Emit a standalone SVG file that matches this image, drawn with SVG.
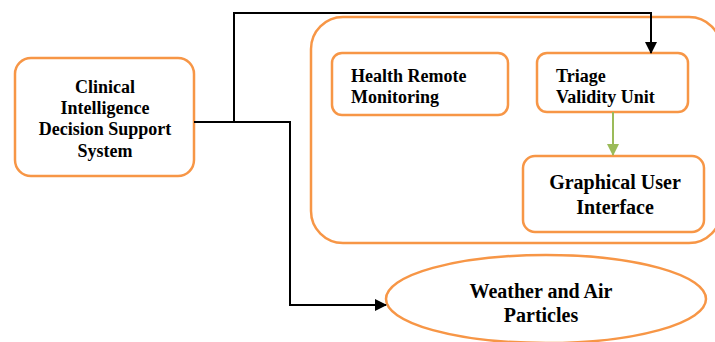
<svg xmlns="http://www.w3.org/2000/svg" width="715" height="342" viewBox="0 0 715 342">
<style>
.box{fill:#fff;stroke:#f79646;stroke-width:2.5}
.t{font-family:"Liberation Serif","Times New Roman",serif;font-weight:bold;fill:#000;font-size:18px}
.tl{font-family:"Liberation Serif","Times New Roman",serif;font-weight:bold;fill:#000;font-size:20px}
.c{fill:none;stroke:#000;stroke-width:2}
</style>
<defs>
<marker id="ab" markerWidth="12" markerHeight="12" refX="11" refY="6" orient="auto" markerUnits="userSpaceOnUse"><path d="M0,0 L12,6 L0,12 Z" fill="#000"/></marker>
<marker id="ag" markerWidth="12" markerHeight="12" refX="11" refY="6" orient="auto" markerUnits="userSpaceOnUse"><path d="M0,0 L12,6 L0,12 Z" fill="#9bbb59"/></marker>
</defs>
<g id="container"><rect class="box" x="311" y="17" width="410" height="226" rx="32"/></g>
<g id="cidss"><rect class="box" x="15" y="58" width="179" height="118" rx="16"/>
<text class="t" text-anchor="middle" x="105" y="93">Clinical</text>
<text class="t" text-anchor="middle" x="105" y="114">Intelligence</text>
<text class="t" text-anchor="middle" x="105" y="135">Decision Support</text>
<text class="t" text-anchor="middle" x="105" y="157">System</text></g>
<g id="hrm"><rect class="box" x="332" y="53" width="176" height="62" rx="10"/>
<text class="t" x="351" y="82">Health Remote</text>
<text class="t" x="351" y="103">Monitoring</text></g>
<g id="tvu"><rect class="box" x="537" y="53" width="151" height="59" rx="10"/>
<text class="t" x="556" y="82">Triage</text>
<text class="t" x="556" y="103">Validity Unit</text></g>
<g id="gui"><rect class="box" x="523" y="156" width="181" height="76" rx="12"/>
<text class="tl" text-anchor="middle" x="615" y="189">Graphical User</text>
<text class="tl" text-anchor="middle" x="615" y="214">Interface</text></g>
<g id="weather"><ellipse class="box" cx="546" cy="299" rx="160" ry="44"/>
<text class="tl" text-anchor="middle" x="541" y="298">Weather and Air</text>
<text class="tl" text-anchor="middle" x="541" y="322">Particles</text></g>
<g id="connectors">
<path class="c" d="M194,122 H290 V305 H386" marker-end="url(#ab)"/>
<path class="c" d="M234,122 V13 H651 V53" marker-end="url(#ab)"/>
<path d="M613,112 V155" fill="none" stroke="#9bbb59" stroke-width="2" marker-end="url(#ag)"/>
</g>
</svg>
